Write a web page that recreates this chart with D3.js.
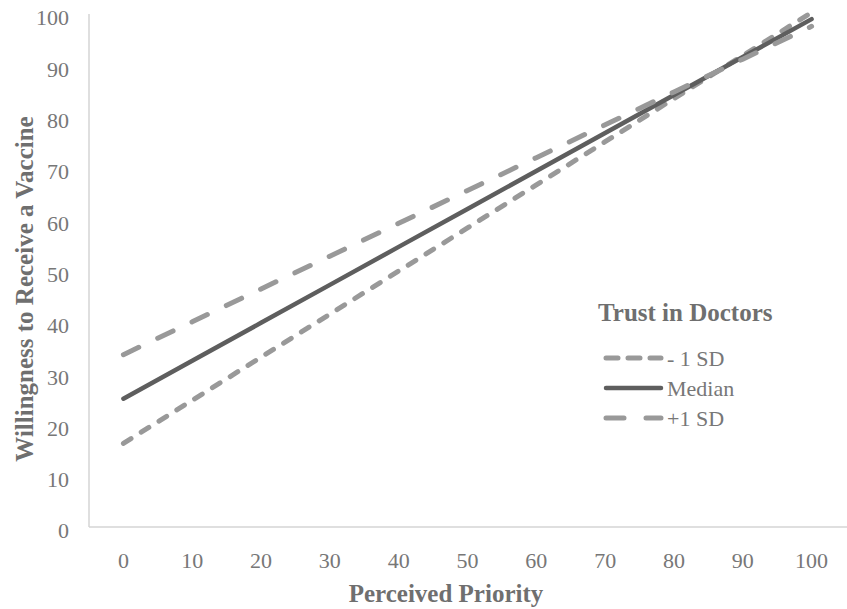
<!DOCTYPE html>
<html>
<head>
<meta charset="utf-8">
<script src="https://cdn.jsdelivr.net/npm/d3@7"></script>
<style>
  body { margin: 0; background: #fff; }
  text { font-family: "Liberation Serif", "Times New Roman", serif; }
</style>
</head>
<body>
<div id="container"></div>
<script>
let w = 847;
let h = 609;

// data
let priority = [0, 10, 20, 30, 40, 50, 60, 70, 80, 90, 100];
let minusSD = [16.3, 24.7, 33.1, 41.5, 49.9, 58.3, 66.7, 75.1, 83.5, 91.9, 100.3];
let median = [25, 32.4, 39.8, 47.2, 54.6, 62, 69.4, 76.8, 84.2, 91.6, 99];
let plusSD = [33.6, 40, 46.4, 52.8, 59.2, 65.6, 72, 78.4, 84.8, 91.2, 97.6];
let yTicks = [0, 10, 20, 30, 40, 50, 60, 70, 80, 90, 100];
let seriesNames = ["- 1 SD", "Median", "+1 SD"];

let series = [
  {name: seriesNames[0], values: minusSD, color: "#999999", dash: "9,12", legendDash: "12,10"},
  {name: seriesNames[1], values: median, color: "#5e5e5e", dash: null, legendDash: null},
  {name: seriesNames[2], values: plusSD, color: "#999999", dash: "17,21", legendDash: "18,22"}
];

let viz = d3.select("#container")
  .append("svg")
    .attr("width", w)
    .attr("height", h)
    .style("background-color", "white")
;

let padLeft = 89, padRight = 846, padTop = 14, padBottom = 527;

let xScale = d3.scalePoint().domain(priority).range([padLeft, padRight]).padding(0.5);
let yScale = d3.scaleLinear().domain([0, 100]).range([padBottom, padTop]);

// axes lines
viz.append("line")
  .attr("x1", padLeft).attr("x2", padLeft)
  .attr("y1", padTop).attr("y2", padBottom)
  .attr("stroke", "#d4d4d4").attr("stroke-width", 1.5);
viz.append("line")
  .attr("x1", padLeft).attr("x2", padRight + 1)
  .attr("y1", padBottom).attr("y2", padBottom)
  .attr("stroke", "#d4d4d4").attr("stroke-width", 1.5);

// tick labels
viz.selectAll(".ytick").data(yTicks).enter()
  .append("text")
    .classed("ytick", true)
    .attr("x", 69)
    .attr("y", d => yScale(d))
    .attr("dy", "0.52em")
    .attr("text-anchor", "end")
    .attr("font-size", 22)
    .attr("fill", "#777777")
    .text(d => d);

viz.selectAll(".xtick").data(priority).enter()
  .append("text")
    .classed("xtick", true)
    .attr("x", d => xScale(d))
    .attr("y", 568)
    .attr("text-anchor", "middle")
    .attr("font-size", 22)
    .attr("fill", "#777777")
    .text(d => d);

// axis titles
viz.append("text")
  .attr("x", 446)
  .attr("y", 602)
  .attr("text-anchor", "middle")
  .attr("font-size", 25)
  .attr("font-weight", "bold")
  .attr("fill", "#6f6f6f")
  .text("Perceived Priority");

viz.append("text")
  .attr("transform", "translate(33,289) rotate(-90)")
  .attr("text-anchor", "middle")
  .attr("font-size", 25)
  .attr("font-weight", "bold")
  .attr("fill", "#6f6f6f")
  .text("Willingness to Receive a Vaccine");

// lines
let line = d3.line()
  .x((d, i) => xScale(priority[i]))
  .y(d => yScale(d));

viz.selectAll(".series").data(series).enter()
  .append("path")
    .classed("series", true)
    .attr("d", d => line(d.values))
    .attr("fill", "none")
    .attr("stroke", d => d.color)
    .attr("stroke-width", d => d.dash ? 5 : 4.5)
    .attr("stroke-linecap", "round")
    .attr("stroke-dasharray", d => d.dash);

// legend
viz.append("text")
  .attr("x", 598)
  .attr("y", 321)
  .attr("font-size", 25)
  .attr("font-weight", "bold")
  .attr("fill", "#6f6f6f")
  .text("Trust in Doctors");

let legend = viz.selectAll(".legenditem").data(series).enter()
  .append("g")
    .classed("legenditem", true)
    .attr("transform", (d, i) => "translate(606," + (358 + i * 30) + ")");

legend.append("line")
  .attr("x1", 0).attr("x2", 55)
  .attr("y1", 0).attr("y2", 0)
  .attr("stroke", d => d.color)
  .attr("stroke-width", d => d.dash ? 5 : 4.5)
  .attr("stroke-linecap", "round")
  .attr("stroke-dasharray", d => d.legendDash);

legend.append("text")
  .attr("x", 61)
  .attr("y", 0)
  .attr("dy", "0.35em")
  .attr("font-size", 22)
  .attr("fill", "#777777")
  .text(d => d.name);
</script>
</body>
</html>
